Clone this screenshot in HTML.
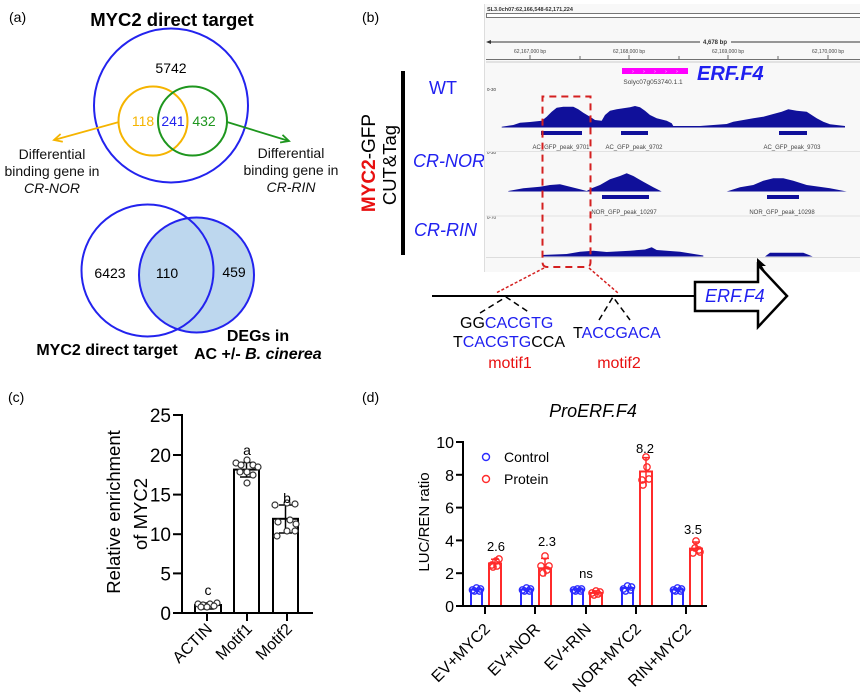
<!DOCTYPE html>
<html><head><meta charset="utf-8">
<style>
html,body{margin:0;padding:0;background:#fff;}
svg{display:block;font-family:"Liberation Sans",Arial,sans-serif;}
</style></head><body>
<svg width="860" height="694" viewBox="0 0 860 694" xmlns="http://www.w3.org/2000/svg">
<rect width="860" height="694" fill="#fff"/>

<!-- ============ PANEL A ============ -->
<text x="9" y="22" font-size="14">(a)</text>
<text x="172" y="26" font-size="18.5" font-weight="bold" text-anchor="middle">MYC2 direct target</text>
<circle cx="171" cy="105.5" r="77" fill="none" stroke="#2323ee" stroke-width="2"/>
<text x="171" y="73" font-size="14" text-anchor="middle">5742</text>
<circle cx="153" cy="121" r="34.5" fill="none" stroke="#f5b400" stroke-width="2"/>
<circle cx="192.5" cy="121" r="34.5" fill="none" stroke="#1e961e" stroke-width="2"/>
<text x="143" y="126" font-size="14" fill="#f5b400" text-anchor="middle">118</text>
<text x="173" y="126" font-size="14" fill="#2323ee" text-anchor="middle">241</text>
<text x="204" y="126" font-size="14" fill="#1e961e" text-anchor="middle">432</text>
<line x1="119" y1="122" x2="54" y2="140" stroke="#f5b400" stroke-width="1.8"/>
<polyline points="62.8,141.8 54,140 60.6,134" fill="none" stroke="#f5b400" stroke-width="1.8"/>
<line x1="227" y1="122" x2="289" y2="141" stroke="#1e961e" stroke-width="1.8"/>
<polyline points="280.1,142.5 289,141 282.5,134.9" fill="none" stroke="#1e961e" stroke-width="1.8"/>
<g font-size="14" text-anchor="middle" fill="#111">
<text x="52" y="159">Differential</text>
<text x="52" y="176">binding gene in</text>
<text x="52" y="193" font-style="italic">CR-NOR</text>
<text x="291" y="158">Differential</text>
<text x="291" y="175">binding gene in</text>
<text x="291" y="192" font-style="italic">CR-RIN</text>
</g>

<circle cx="196.5" cy="275" r="57.5" fill="#bdd7ee" stroke="#2323ee" stroke-width="2"/>
<circle cx="147.5" cy="270.5" r="66" fill="none" stroke="#2323ee" stroke-width="2"/>
<g font-size="14" text-anchor="middle">
<text x="110" y="278">6423</text>
<text x="167" y="278">110</text>
<text x="234" y="277">459</text>
</g>
<text x="107" y="355" font-size="16" font-weight="bold" text-anchor="middle">MYC2 direct target</text>
<text x="258" y="341" font-size="16" font-weight="bold" text-anchor="middle">DEGs in</text>
<text x="194" y="359" font-size="16" font-weight="bold">AC +/- <tspan font-style="italic">B. cinerea</tspan></text>

<!-- ============ PANEL B ============ -->
<text x="362" y="22" font-size="14">(b)</text>
<rect x="401" y="71" width="4" height="184" fill="#000"/>
<text transform="translate(375,163) rotate(-90)" text-anchor="middle" font-size="19"><tspan fill="#e81010" font-weight="bold">MYC2</tspan>-GFP</text>
<text transform="translate(396,165) rotate(-90)" text-anchor="middle" font-size="18.5">CUT&amp;Tag</text>
<text x="429" y="94" font-size="18" fill="#2020f0">WT</text>
<text x="413" y="167" font-size="18" fill="#2020f0" font-style="italic">CR-NOR</text>
<text x="414" y="236" font-size="18" fill="#2020f0" font-style="italic">CR-RIN</text>

<!-- browser -->
<rect x="484" y="4" width="376" height="268" fill="#f8f8f8"/>
<line x1="484.5" y1="4" x2="484.5" y2="272" stroke="#ddd" stroke-width="1"/>
<text x="487" y="11" font-size="5.5" font-weight="bold" fill="#333">SL3.0ch07:62,166,548-62,171,224</text>
<rect x="486.5" y="13.5" width="374" height="4" fill="#fff" stroke="#555" stroke-width="0.8"/>
<line x1="488" y1="42" x2="700" y2="42" stroke="#333" stroke-width="1"/>
<line x1="731" y1="42" x2="860" y2="42" stroke="#333" stroke-width="1"/>
<polygon points="486,42 491,40 491,44" fill="#333"/>
<text x="715" y="44" font-size="6" font-weight="bold" text-anchor="middle" fill="#333">4,678 bp</text>
<g font-size="5" fill="#444" text-anchor="middle">
<text x="530" y="53">62,167,000 bp</text>
<text x="629" y="53">62,168,000 bp</text>
<text x="728" y="53">62,169,000 bp</text>
<text x="828" y="53">62,170,000 bp</text>
</g>
<g stroke="#444" stroke-width="0.8">
<line x1="530" y1="55" x2="530" y2="59"/><line x1="629" y1="55" x2="629" y2="59"/>
<line x1="728" y1="55" x2="728" y2="59"/><line x1="828" y1="55" x2="828" y2="59"/>
<line x1="580" y1="56" x2="580" y2="59"/><line x1="679" y1="56" x2="679" y2="59"/>
<line x1="778" y1="56" x2="778" y2="59"/>
</g>
<line x1="486" y1="59.5" x2="860" y2="59.5" stroke="#444" stroke-width="0.8"/>
<line x1="486" y1="62" x2="860" y2="62" stroke="#ccc" stroke-width="1"/>
<rect x="622" y="68" width="66" height="6" fill="#ff00ff"/>
<g fill="#fff" font-size="5" text-anchor="middle"><text x="633" y="73">›</text><text x="644" y="73">›</text><text x="655" y="73">›</text><text x="666" y="73">›</text><text x="677" y="73">›</text></g>
<text x="653" y="84" font-size="6.5" fill="#444" text-anchor="middle">Solyc07g053740.1.1</text>
<text x="697" y="80" font-size="20" font-weight="bold" font-style="italic" fill="#2020f0">ERF.F4</text>

<g font-size="4.5" fill="#333">
<text x="487" y="91">0-30</text>
<text x="487" y="154">0-30</text>
<text x="487" y="219">0-70</text>
</g>

<g fill="#10109a">
<polygon points="501.7,126.7 513.3,125 520,122.7 530,122 541.7,120.7 546.7,116.7 551.7,111.7 556.7,107.7 563.3,106.7 573.3,106.7 578.3,109.3 583.3,112.7 590,116.7 595,120 601.7,120.7 605,115 610,110.7 616.7,109.3 623.3,108.3 630,107.3 635,106 640,107.3 645,110.7 650,115 656.7,118.3 666.7,120.7 671.7,123.3 673.3,126 700,126 713.3,125 726.7,124 733.3,121.7 743.3,120 753.3,118.3 763.3,116.7 773.3,114 781.7,111.7 788.3,109.3 796.7,110.7 806.7,111.7 811.7,115 816.7,118.3 823.3,121.7 830,124.3 845,126 845,127.5 501.7,127.5"/>
<rect x="541" y="131" width="41" height="4"/>
<rect x="621" y="131" width="27" height="4"/>
<rect x="779" y="131" width="28" height="4"/>
<polygon points="508.3,191 523.3,188.3 540,186.7 550,185 560,184.3 570,186.7 580,189.3 586.7,191 591.7,188.3 600,185 610,179.3 620,176 626.7,173.3 633.3,176 643.3,181.7 653.3,187.3 661.7,191.5 508.3,191.5"/>
<polygon points="726.7,191.5 740,187.3 753.3,185 763.3,180.7 773.3,178.3 783.3,178.3 793.3,180.7 806.7,185 830,188.3 846.7,191.5"/>
<rect x="602" y="195" width="47" height="4"/>
<rect x="767" y="195" width="32" height="4"/>
<polygon points="541.7,256.5 541.7,255 566.7,254 580,251.7 593.3,250.7 606.7,252 630,250.7 645,249.5 651.7,247.3 656.7,250 680,251.7 703.3,255.5 703.3,256.5"/>
<polygon points="765,256.5 770,252.7 803.3,252.7 812.7,256.5"/>
</g>
<g font-size="6" fill="#444" text-anchor="middle">
<text x="561" y="149">AC_GFP_peak_9701</text>
<text x="634" y="149">AC_GFP_peak_9702</text>
<text x="792" y="149">AC_GFP_peak_9703</text>
<text x="624" y="214">NOR_GFP_peak_10297</text>
<text x="782" y="214">NOR_GFP_peak_10298</text>
</g>
<line x1="486" y1="151.5" x2="860" y2="151.5" stroke="#e2e2e2" stroke-width="1"/>
<line x1="486" y1="216" x2="860" y2="216" stroke="#e2e2e2" stroke-width="1"/>
<line x1="486" y1="257.5" x2="860" y2="257.5" stroke="#ddd" stroke-width="1"/>
<polygon points="757,258 757,270 760,267 763,272 765,271 762,266 766,266" fill="#000"/>

<!-- red dashed box -->
<path d="M547,267 Q542.5,267 542.5,262 V96.5 H590.5 V262 Q590.5,267 586,267 Z" fill="none" stroke="#d42020" stroke-width="2" stroke-dasharray="7,5"/>
<line x1="544" y1="268" x2="496" y2="293" stroke="#d42020" stroke-width="1.5" stroke-dasharray="3,2"/>
<line x1="589" y1="268" x2="618" y2="293" stroke="#d42020" stroke-width="1.5" stroke-dasharray="3,2"/>

<!-- gene line & arrow -->
<line x1="432" y1="296" x2="695" y2="296" stroke="#000" stroke-width="2"/>
<path d="M695,282 H758 V265 L787,296 L758,327 V311 H695 Z" fill="#fff" stroke="#000" stroke-width="2.5" stroke-linejoin="miter"/>
<text x="705" y="302" font-size="18" font-style="italic" fill="#2020f0">ERF.F4</text>
<polyline points="480,313 506,297 530,313" fill="none" stroke="#000" stroke-width="1.5" stroke-dasharray="6,4"/>
<polyline points="599,320 613,297 630,320" fill="none" stroke="#000" stroke-width="1.5" stroke-dasharray="6,4"/>
<g font-size="16">
<text x="460" y="328">GG<tspan fill="#2020f0">CACGTG</tspan></text>
<text x="453" y="347">T<tspan fill="#2020f0">CACGTG</tspan>CCA</text>
<text x="573" y="338">T<tspan fill="#2020f0">ACCGACA</tspan></text>
<text x="510" y="368" fill="#e81010" text-anchor="middle">motif1</text>
<text x="619" y="368" fill="#e81010" text-anchor="middle">motif2</text>
</g>

<!-- ============ PANEL C ============ -->
<text x="8" y="402" font-size="14">(c)</text>
<text transform="translate(120,512) rotate(-90)" text-anchor="middle" font-size="18.5">Relative enrichment</text>
<text transform="translate(147,514) rotate(-90)" text-anchor="middle" font-size="18.5">of MYC2</text>
<g font-size="19" text-anchor="end">
<text x="171" y="422">25</text>
<text x="171" y="462">20</text>
<text x="171" y="501.6">15</text>
<text x="171" y="541.2">10</text>
<text x="171" y="580.4">5</text>
<text x="171" y="620">0</text>
</g>
<g stroke="#000" stroke-width="2">
<line x1="173" y1="415" x2="182" y2="415"/>
<line x1="173" y1="455" x2="182" y2="455"/>
<line x1="173" y1="494.6" x2="182" y2="494.6"/>
<line x1="173" y1="534.2" x2="182" y2="534.2"/>
<line x1="173" y1="573.4" x2="182" y2="573.4"/>
<line x1="173" y1="613" x2="182" y2="613"/>
<line x1="207" y1="613" x2="207" y2="621"/>
<line x1="247" y1="613" x2="247" y2="621"/>
<line x1="287" y1="613" x2="287" y2="621"/>
</g>
<g fill="#fff" stroke="#000" stroke-width="2">
<rect x="195" y="605" width="26" height="8"/>
<rect x="234" y="469.6" width="25" height="143.4"/>
<rect x="273" y="518.8" width="25" height="94.2"/>
</g>
<line x1="182" y1="414" x2="182" y2="614" stroke="#000" stroke-width="2"/>
<line x1="181" y1="613" x2="313" y2="613" stroke="#000" stroke-width="2"/>
<g stroke="#000" stroke-width="1.5" fill="none">
<path d="M208,603 V609 M202,603 H214 M202,609 H214"/>
<path d="M246.5,462.5 V477 M240,462.5 H253 M240,477 H253"/>
<path d="M285.5,505 V533 M279,505 H292 M279,533 H292"/>
</g>
<g fill="#fff" stroke="#333" stroke-width="1.2">
<circle cx="198" cy="604" r="3"/><circle cx="203" cy="605" r="3"/><circle cx="210" cy="604" r="3"/><circle cx="217" cy="603" r="3"/><circle cx="201" cy="607" r="3"/><circle cx="207" cy="607" r="3"/><circle cx="214" cy="606" r="3"/>
<circle cx="236" cy="463" r="3"/><circle cx="241" cy="465" r="3"/><circle cx="247" cy="460" r="3"/><circle cx="253" cy="465" r="3"/><circle cx="258" cy="467" r="3"/><circle cx="240" cy="472" r="3"/><circle cx="247" cy="472" r="3"/><circle cx="253" cy="475" r="3"/><circle cx="247" cy="483" r="3"/>
<circle cx="275" cy="505" r="3"/><circle cx="287" cy="503" r="3"/><circle cx="295" cy="504" r="3"/><circle cx="277" cy="536" r="3"/><circle cx="287" cy="531" r="3"/><circle cx="295" cy="531" r="3"/><circle cx="278" cy="522" r="3"/><circle cx="290" cy="520" r="3"/><circle cx="296" cy="524" r="3"/>
</g>
<g font-size="14" text-anchor="middle">
<text x="208" y="595">c</text>
<text x="247" y="455">a</text>
<text x="287" y="503">b</text>
</g>
<g font-size="16" text-anchor="end">
<text transform="translate(213,630) rotate(-45)">ACTIN</text>
<text transform="translate(253,630) rotate(-45)">Motif1</text>
<text transform="translate(293,630) rotate(-45)">Motif2</text>
</g>

<!-- ============ PANEL D ============ -->
<text x="362" y="402" font-size="14">(d)</text>
<text x="593" y="417" font-size="18" font-style="italic" text-anchor="middle">ProERF.F4</text>
<text transform="translate(429,522) rotate(-90)" text-anchor="middle" font-size="15">LUC/REN ratio</text>
<g font-size="16" text-anchor="end">
<text x="454" y="448">10</text>
<text x="454" y="480.8">8</text>
<text x="454" y="513.6">6</text>
<text x="454" y="546.4">4</text>
<text x="454" y="579.2">2</text>
<text x="454" y="612">0</text>
</g>
<g stroke="#000" stroke-width="2">
<line x1="456" y1="442" x2="463" y2="442"/>
<line x1="456" y1="474.8" x2="463" y2="474.8"/>
<line x1="456" y1="507.6" x2="463" y2="507.6"/>
<line x1="456" y1="540.4" x2="463" y2="540.4"/>
<line x1="456" y1="573.2" x2="463" y2="573.2"/>
<line x1="456" y1="606" x2="463" y2="606"/>
<line x1="485" y1="606" x2="485" y2="614"/>
<line x1="535" y1="606" x2="535" y2="614"/>
<line x1="586" y1="606" x2="586" y2="614"/>
<line x1="636" y1="606" x2="636" y2="614"/>
<line x1="686" y1="606" x2="686" y2="614"/>
</g>
<!-- blue bars -->
<g fill="#fff" stroke="#2b2bff" stroke-width="2">
<rect x="471" y="589.6" width="11" height="16.4"/>
<rect x="521" y="589.6" width="11" height="16.4"/>
<rect x="572" y="589.6" width="11" height="16.4"/>
<rect x="622" y="588" width="11" height="18"/>
<rect x="672" y="589.6" width="11" height="16.4"/>
</g>
<g fill="#fff" stroke="#ff2b2b" stroke-width="2">
<rect x="489" y="563.4" width="12" height="42.6"/>
<rect x="539" y="568.3" width="12" height="37.7"/>
<rect x="590" y="592.9" width="12" height="13.1"/>
<rect x="640" y="471.5" width="12" height="134.5"/>
<rect x="690" y="548.6" width="12" height="57.4"/>
</g>
<line x1="463" y1="441" x2="463" y2="607" stroke="#000" stroke-width="2"/>
<line x1="462" y1="606" x2="707" y2="606" stroke="#000" stroke-width="2"/>
<g stroke="#ff2b2b" stroke-width="1.5" fill="none">
<path d="M495,559.3 V567.5 M491,559.3 H499"/>
<path d="M545,558.4 V576.5 M541,558.4 H549"/>
<path d="M596,590.9 V594.8 M592,590.9 H600"/>
<path d="M646,457.6 V486.3 M642,457.6 H650"/>
<path d="M696,542 V554.3 M692,542 H700"/>
</g>
<g fill="none" stroke="#2b2bff" stroke-width="1.3">
<circle cx="472.5" cy="590" r="3.2"/><circle cx="476.5" cy="588" r="3.2"/><circle cx="480.5" cy="589" r="3.2"/><circle cx="474.5" cy="591" r="3.2"/><circle cx="479.5" cy="591" r="3.2"/>
<circle cx="522.5" cy="590" r="3.2"/><circle cx="526.5" cy="588" r="3.2"/><circle cx="530.5" cy="589" r="3.2"/><circle cx="524.5" cy="591" r="3.2"/><circle cx="529.5" cy="591" r="3.2"/>
<circle cx="573.5" cy="590" r="3.2"/><circle cx="577.5" cy="589" r="3.2"/><circle cx="581.5" cy="589" r="3.2"/><circle cx="575.5" cy="591" r="3.2"/><circle cx="580.5" cy="591" r="3.2"/>
<circle cx="623.5" cy="589" r="3.2"/><circle cx="627.5" cy="586" r="3.2"/><circle cx="631.5" cy="587" r="3.2"/><circle cx="625.5" cy="591" r="3.2"/><circle cx="630.5" cy="590" r="3.2"/>
<circle cx="673.5" cy="590" r="3.2"/><circle cx="677.5" cy="588" r="3.2"/><circle cx="681.5" cy="589" r="3.2"/><circle cx="675.5" cy="591" r="3.2"/><circle cx="680.5" cy="591" r="3.2"/>
</g>
<g fill="none" stroke="#ff2b2b" stroke-width="1.3">
<circle cx="492" cy="565" r="3.2"/><circle cx="496" cy="561" r="3.2"/><circle cx="499" cy="559" r="3.2"/><circle cx="493" cy="567" r="3.2"/><circle cx="497" cy="566" r="3.2"/>
<circle cx="545" cy="556" r="3.2"/><circle cx="541" cy="566" r="3.2"/><circle cx="543" cy="573" r="3.2"/><circle cx="547" cy="570" r="3.2"/><circle cx="549" cy="566" r="3.2"/>
<circle cx="592" cy="593" r="3.2"/><circle cx="596" cy="591" r="3.2"/><circle cx="600" cy="592" r="3.2"/><circle cx="594" cy="595" r="3.2"/><circle cx="598" cy="594" r="3.2"/>
<circle cx="646" cy="457" r="3.2"/><circle cx="647" cy="467" r="3.2"/><circle cx="642" cy="480" r="3.2"/><circle cx="649" cy="479" r="3.2"/><circle cx="643" cy="485" r="3.2"/>
<circle cx="696" cy="541" r="3.2"/><circle cx="693" cy="553" r="3.2"/><circle cx="699" cy="550" r="3.2"/><circle cx="695" cy="548" r="3.2"/><circle cx="700" cy="552" r="3.2"/>
</g>
<g font-size="13" text-anchor="middle">
<text x="496" y="551">2.6</text>
<text x="547" y="546">2.3</text>
<text x="586" y="578">ns</text>
<text x="645" y="453">8.2</text>
<text x="693" y="534">3.5</text>
</g>
<circle cx="486" cy="457" r="3.5" fill="none" stroke="#2b2bff" stroke-width="1.4"/>
<circle cx="486" cy="479" r="3.5" fill="none" stroke="#ff2b2b" stroke-width="1.4"/>
<text x="504" y="462" font-size="14">Control</text>
<text x="504" y="484" font-size="14">Protein</text>
<g font-size="16" text-anchor="end">
<text transform="translate(491,630) rotate(-45)">EV+MYC2</text>
<text transform="translate(541,630) rotate(-45)">EV+NOR</text>
<text transform="translate(592,630) rotate(-45)">EV+RIN</text>
<text transform="translate(642,630) rotate(-45)">NOR+MYC2</text>
<text transform="translate(692,630) rotate(-45)">RIN+MYC2</text>
</g>
</svg>
</body></html>
